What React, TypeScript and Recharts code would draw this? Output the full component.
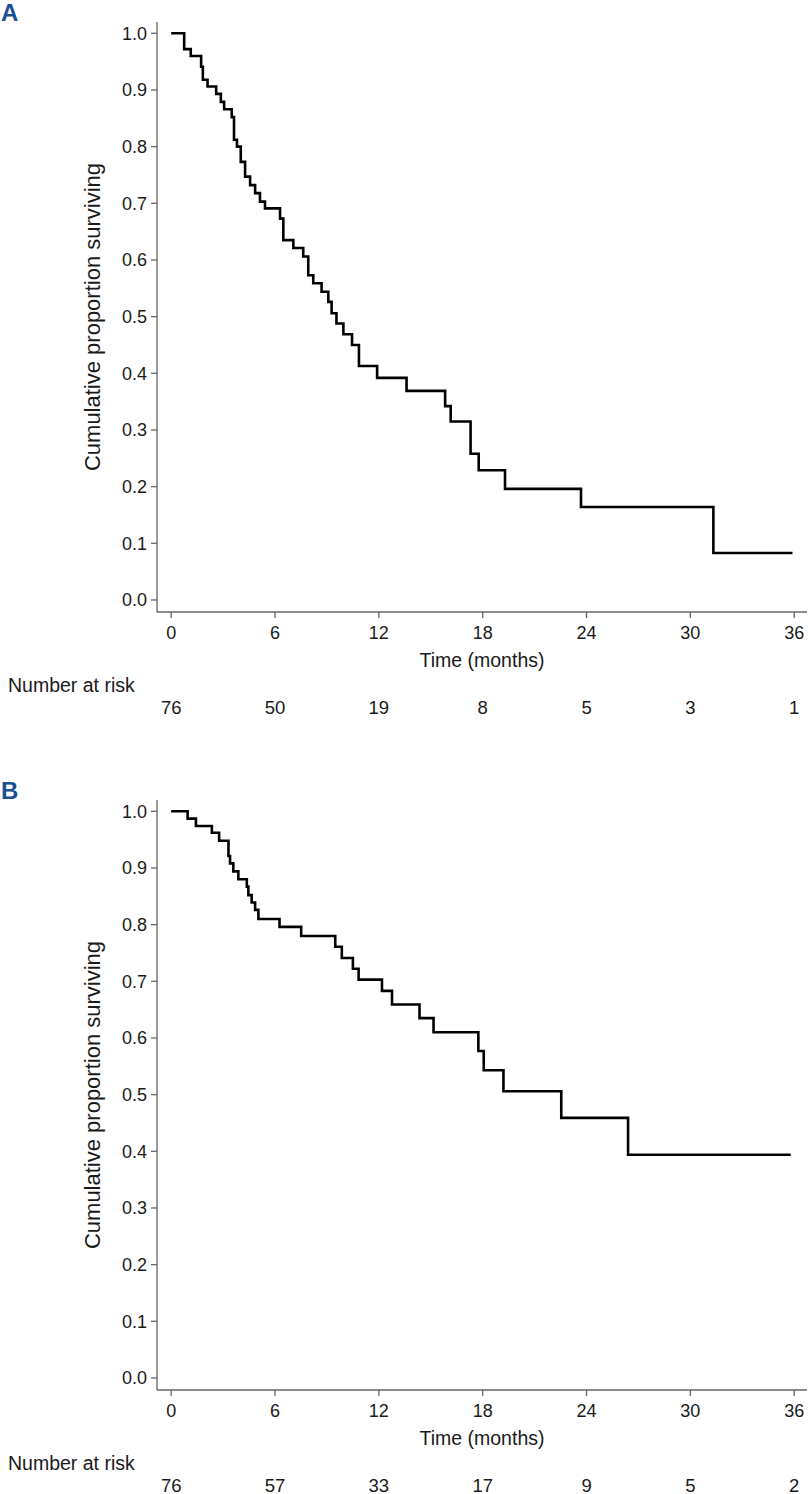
import React from 'react';
import { LineChart, Line, XAxis, YAxis } from 'recharts';

// Panel A — Kaplan–Meier steps (time in months, survival proportion after each drop)
const timesA = [0, 0.75, 1.13, 1.73, 1.83, 2.1, 2.6, 2.87, 3.06, 3.5, 3.63, 3.8, 4.02, 4.27, 4.56, 4.85, 5.13, 5.42, 6.29, 6.48, 7.06, 7.63, 7.92, 8.21, 8.69, 9.08, 9.27, 9.55, 9.95, 10.45, 10.85, 11.9, 13.6, 15.83, 16.15, 17.3, 17.77, 19.29, 23.68, 31.33, 35.9];
const survA = [1.0, 0.972, 0.96, 0.941, 0.918, 0.906, 0.893, 0.879, 0.866, 0.852, 0.812, 0.8, 0.773, 0.747, 0.732, 0.718, 0.703, 0.691, 0.673, 0.635, 0.621, 0.606, 0.573, 0.559, 0.544, 0.526, 0.506, 0.488, 0.469, 0.45, 0.413, 0.392, 0.369, 0.342, 0.315, 0.258, 0.229, 0.196, 0.164, 0.083, 0.083];

// Panel B
const timesB = [0, 0.95, 1.43, 2.35, 2.77, 3.31, 3.4, 3.59, 3.88, 4.37, 4.46, 4.65, 4.85, 5.04, 6.26, 7.51, 9.48, 9.86, 10.5, 10.83, 12.18, 12.76, 14.35, 15.16, 17.75, 18.06, 19.2, 22.54, 26.4, 35.8];
const survB = [1.0, 0.987, 0.974, 0.962, 0.948, 0.921, 0.908, 0.894, 0.88, 0.867, 0.852, 0.839, 0.826, 0.81, 0.796, 0.78, 0.761, 0.741, 0.722, 0.703, 0.683, 0.659, 0.635, 0.61, 0.577, 0.543, 0.506, 0.459, 0.394, 0.394];

const xTicks = [0, 6, 12, 18, 24, 30, 36];
const yTicks = [0, 0.1, 0.2, 0.3, 0.4, 0.5, 0.6, 0.7, 0.8, 0.9, 1.0];
const atRiskA = [76, 50, 19, 8, 5, 3, 1];
const atRiskB = [76, 57, 33, 17, 9, 5, 2];

const FONT = '"Liberation Sans", Arial, Helvetica, sans-serif';
const AXIS = '#666';
const TEXT = '#1a1a1a';

const W = 808;
const H = 778;

function makeXTick(atRisk: number[]) {
  return (props: any) => {
    const { x, y, payload, index } = props;
    const idx = xTicks.indexOf(payload.value);
    const n = atRisk[idx >= 0 ? idx : index];
    return (
      <g>
        <text x={x} y={y + 20.5} textAnchor="middle" fontFamily={FONT} fontSize={18} fill={TEXT}>
          {payload.value}
        </text>
        <text x={x} y={y + 95.5} textAnchor="middle" fontFamily={FONT} fontSize={18.5} fill={TEXT}>
          {n}
        </text>
      </g>
    );
  };
}

const YTick = (props: any) => {
  const { x, y, payload } = props;
  return (
    <text x={x - 4} y={y + 6.4} textAnchor="end" fontFamily={FONT} fontSize={18} fill={TEXT}>
      {Number(payload.value).toFixed(1)}
    </text>
  );
};

const XTitle = (props: any) => {
  const vb = props.viewBox || { x: 157, y: 612, width: 650 };
  return (
    <g>
      <text x={vb.x + vb.width / 2} y={vb.y + 55} textAnchor="middle" fontFamily={FONT} fontSize={19.5} fill={TEXT}>
        Time (months)
      </text>
      <text x={8} y={vb.y + 80} textAnchor="start" fontFamily={FONT} fontSize={19.5} fill={TEXT}>
        Number at risk
      </text>
    </g>
  );
};

const YTitle = (props: any) => {
  const vb = props.viewBox || { x: 0, y: 22, width: 157, height: 590 };
  const cx = 92;
  const cy = vb.y + vb.height / 2;
  return (
    <text
      x={cx}
      y={cy}
      transform={`rotate(-90, ${cx}, ${cy})`}
      textAnchor="middle"
      dominantBaseline="central"
      fontFamily={FONT}
      fontSize={22}
      fill={TEXT}
    >
      Cumulative proportion surviving
    </text>
  );
};

function Panel({ letter, times, surv, atRisk, top }: { letter: string; times: number[]; surv: number[]; atRisk: number[]; top: number }) {
  const data = times.map((t, i) => ({ t, s: surv[i] }));
  return (
    <div style={{ position: 'absolute', left: 0, top, width: W, height: H }}>
      <div
        style={{
          position: 'absolute',
          left: 1,
          top: -1,
          fontFamily: FONT,
          fontWeight: 'bold',
          fontSize: 24,
          color: '#1b4f93',
          lineHeight: '28px',
        }}
      >
        {letter}
      </div>
      <LineChart width={W} height={H} data={data} margin={{ top: 22, right: 1, left: 0, bottom: 106 }}>
        <XAxis
          dataKey="t"
          type="number"
          domain={[-0.82, 36.74]}
          ticks={xTicks}
          interval={0}
          allowDataOverflow
          height={60}
          tickSize={6}
          tickMargin={0}
          axisLine={{ stroke: AXIS, strokeWidth: 1.3 }}
          tickLine={{ stroke: AXIS, strokeWidth: 1.3 }}
          tick={makeXTick(atRisk)}
          label={<XTitle />}
        />
        <YAxis
          type="number"
          domain={[-0.0212, 1.0199]}
          ticks={yTicks}
          interval={0}
          allowDataOverflow
          width={157}
          tickSize={6}
          tickMargin={0}
          axisLine={{ stroke: AXIS, strokeWidth: 1.3 }}
          tickLine={{ stroke: AXIS, strokeWidth: 1.3 }}
          tick={<YTick />}
          label={<YTitle />}
        />
        <Line
          type="stepAfter"
          dataKey="s"
          stroke="#000"
          strokeWidth={2.6}
          dot={false}
          activeDot={false}
          isAnimationActive={false}
        />
      </LineChart>
    </div>
  );
}

export default function App() {
  return (
    <div style={{ position: 'absolute', left: 0, top: 0, width: 808, height: 1494, background: '#fff' }}>
      <Panel letter="A" times={timesA} surv={survA} atRisk={atRiskA} top={0} />
      <Panel letter="B" times={timesB} surv={survB} atRisk={atRiskB} top={778} />
    </div>
  );
}
